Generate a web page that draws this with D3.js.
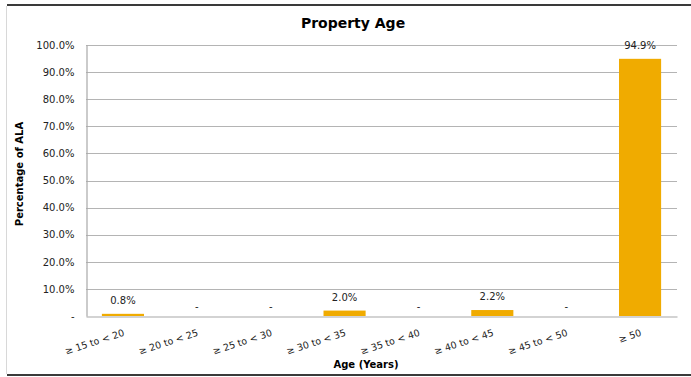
<!DOCTYPE html>
<html>
<head>
<meta charset="utf-8">
<script src="https://cdn.jsdelivr.net/npm/d3@7"></script>
<style>
  html, body { margin: 0; padding: 0; background: #fff; }
  svg { display: block; font-family: "DejaVu Sans", Verdana, sans-serif; }
</style>
</head>
<body>
<svg id="chart" width="691" height="377"></svg>
<script>
// Property age distribution (share of ALA by age band)
const categories = ["≥ 15 to < 20", "≥ 20 to < 25", "≥ 25 to < 30", "≥ 30 to < 35",
                    "≥ 35 to < 40", "≥ 40 to < 45", "≥ 45 to < 50", "≥ 50"];
const values = [0.8, 0, 0, 2.0, 0, 2.2, 0, 94.9];
const yTicks = [0, 10, 20, 30, 40, 50, 60, 70, 80, 90, 100];

const title = "Property Age";
const yTitle = "Percentage of ALA";
const xTitle = "Age (Years)";

const svg = d3.select("#chart");
const W = 691, H = 377;
const plot = { left: 86, right: 677, top: 45, bottom: 316 };

// Outer frame: dark top/bottom rules, light left edge
svg.append("line").attr("x1", 7).attr("x2", W).attr("y1", 5).attr("y2", 5)
  .attr("stroke", "#3a3a3a").attr("stroke-width", 2);
svg.append("line").attr("x1", 7).attr("x2", W).attr("y1", 375).attr("y2", 375)
  .attr("stroke", "#3a3a3a").attr("stroke-width", 2);
svg.append("line").attr("x1", 6.5).attr("x2", 6.5).attr("y1", 6).attr("y2", 374)
  .attr("stroke", "#d8d8d8").attr("stroke-width", 1);

const x = d3.scaleBand().domain(categories).range([plot.left, plot.right]).paddingInner(0.43).paddingOuter(0.215);
const y = d3.scaleLinear().domain([0, 100]).range([plot.bottom, plot.top]);

// Gridlines
svg.append("g")
  .selectAll("line")
  .data(yTicks.filter(t => t > 0))
  .join("line")
  .attr("x1", plot.left).attr("x2", plot.right)
  .attr("y1", d => Math.round(y(d)) + 0.5).attr("y2", d => Math.round(y(d)) + 0.5)
  .attr("stroke", "#b4b4b4").attr("stroke-width", 1.2);

// Bars
svg.append("g")
  .selectAll("rect")
  .data(values)
  .join("rect")
  .attr("x", (d, i) => x(categories[i]))
  .attr("width", x.bandwidth())
  .attr("y", d => y(d))
  .attr("height", d => y(0) - y(d))
  .attr("fill", "#F0AB00");

// Y axis
const yAxis = d3.axisLeft(y)
  .tickValues(yTicks)
  .tickSize(0)
  .tickPadding(12)
  .tickFormat(d => d === 0 ? "-" : d.toFixed(1) + "%");
const gy = svg.append("g").attr("transform", `translate(${plot.left + 0.5},0)`).call(yAxis);
gy.select(".domain").attr("stroke", "#a8a8a8").attr("stroke-width", 1.2);
gy.selectAll("text").attr("font-size", 10).attr("fill", "#222")
  .attr("font-family", "'DejaVu Sans', Verdana, sans-serif");

// X axis with slanted category labels ending at each band centre
const xAxis = d3.axisBottom(x).tickSize(0).tickPadding(0);
const gx = svg.append("g").attr("transform", `translate(0,${plot.bottom + 0.5})`).call(xAxis);
gx.select(".domain").attr("stroke", "#a8a8a8").attr("stroke-width", 1.2);
gx.selectAll("text")
  .attr("font-size", 9.5).attr("fill", "#222")
  .attr("font-family", "'DejaVu Sans', Verdana, sans-serif")
  .attr("text-anchor", "end")
  .attr("dy", 0)
  .attr("y", 0)
  .attr("transform", "translate(2,19) rotate(-18)");

// Value labels
svg.append("g")
  .selectAll("text")
  .data(values)
  .join("text")
  .attr("x", (d, i) => x(categories[i]) + x.bandwidth() / 2)
  .attr("y", d => d === 0 ? y(0) - 6 : y(d) - 10)
  .attr("text-anchor", "middle")
  .attr("font-size", 10)
  .attr("fill", "#222")
  .text(d => d === 0 ? "-" : d.toFixed(1) + "%");

// Titles
svg.append("text").attr("x", 353).attr("y", 28).attr("text-anchor", "middle")
  .attr("font-size", 14).attr("font-weight", "bold").attr("fill", "#000").text(title);
svg.append("text").attr("transform", "translate(23,174) rotate(-90)").attr("text-anchor", "middle")
  .attr("font-size", 10).attr("font-weight", "bold").attr("fill", "#000").text(yTitle);
svg.append("text").attr("x", 366).attr("y", 368).attr("text-anchor", "middle")
  .attr("font-size", 10).attr("font-weight", "bold").attr("fill", "#000").text(xTitle);
</script>
</body>
</html>
